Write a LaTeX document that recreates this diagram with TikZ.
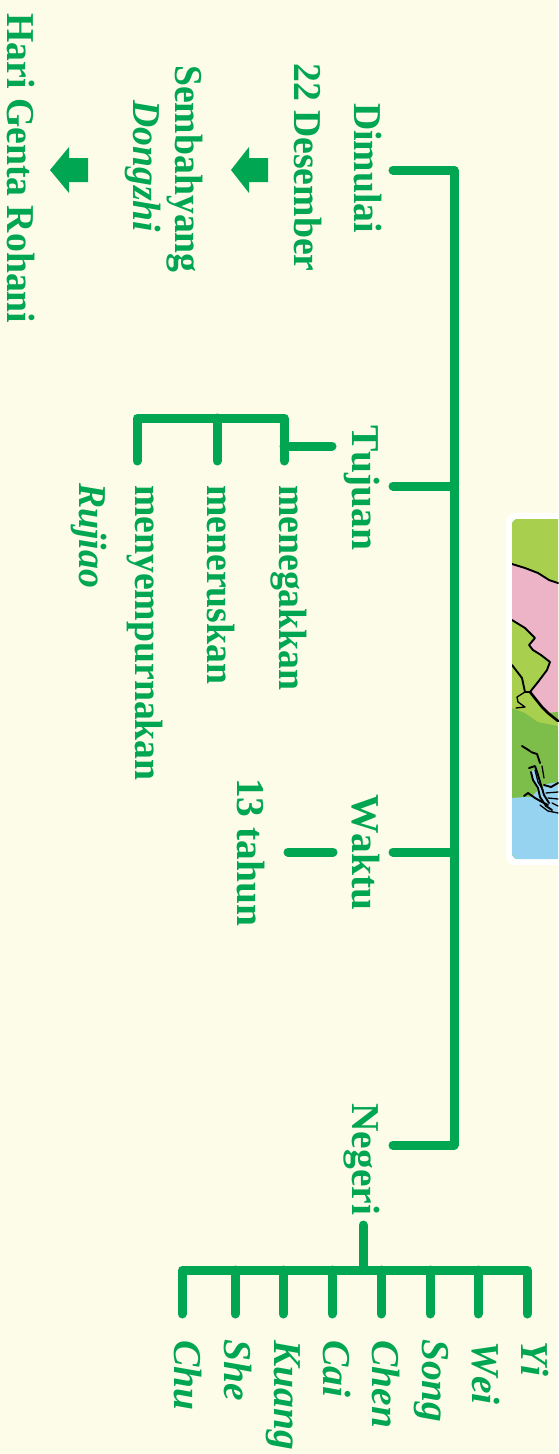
\documentclass[tikz,border=0pt]{standalone}
\usepackage{fontspec}
\setmainfont[Kerning=Off,FakeStretch=0.955]{Liberation Serif}
\newfontfamily\widefont[Kerning=Off]{Liberation Serif}
\definecolor{bgc}{RGB}{253,252,232}
\definecolor{gr}{RGB}{0,166,81}
\definecolor{mlime}{RGB}{168,207,78}
\definecolor{mpink}{RGB}{236,180,198}
\definecolor{mgreen}{RGB}{125,190,75}
\definecolor{mblue}{RGB}{150,211,240}
\tikzset{
  lab/.style={rotate=-90,anchor=base west,inner sep=0pt,text=gr,font=\fontsize{39.5}{42}\selectfont\bfseries},
  ilab/.style={lab,font=\fontsize{39.5}{42}\selectfont\bfseries\itshape},
  wlab/.style={lab,font=\widefont\fontsize{39.5}{42}\selectfont\bfseries},
  wilab/.style={lab,font=\widefont\fontsize{39.5}{42}\selectfont\bfseries\itshape},
  conn/.style={draw=gr,line width=9pt,line cap=round,line join=round},
  blockarrow/.style={fill=gr,draw=none},
  coast/.style={draw=black,line width=1.9pt,line join=round,line cap=round},
  fine/.style={draw=black,line width=1.3pt,line join=round,line cap=round}
}
\begin{document}
\begin{tikzpicture}[x=1pt,y=-1pt]
\useasboundingbox (0,0) rectangle (558,1454);
\fill[bgc] (0,0) rectangle (558,1454);
% map
\fill[white,rounded corners=9pt] (506,513) rectangle (580,865);
\begin{scope}
\clip[rounded corners=6pt] (512,519) rectangle (580,859);
\fill[mgreen] (512,519) rectangle (558,859);
\fill[mlime] (512,519) -- (558,519) -- (558,726) -- (538,722) -- (525,713) -- (512,708) -- cycle;
\fill[mpink] (512,564) -- (525,568) -- (538,573) -- (549,580) -- (558,583) -- (558,712) -- (549,713) -- (542,707) -- (530,692) -- (538,682) -- (547,670) -- (550,662) -- (541,655) -- (533,650) -- (529,645) -- (535,638) -- (525,628) -- (512,620) -- cycle;
\fill[mgreen] (548,713) -- (558,712) -- (558,721) -- cycle;
\fill[mblue] (512,798) -- (525,797) -- (530,790) -- (540,785) -- (558,780) -- (558,859) -- (512,859) -- cycle;
\fill[mgreen] (512,730) rectangle (531,797);
\fill[mgreen] (531,730) -- (558,730) -- (558,782) -- (546,784) -- (538,790) -- (531,797) -- cycle;
\fill[mblue] (531,772) -- (536,768) -- (541,785) -- (549,803) -- (540,797) -- (534,782) -- cycle;
\draw[coast] (512,564) -- (525,568) -- (538,573) -- (549,580) -- (558,583);
\draw[coast] (512,620) -- (525,628) -- (535,638) -- (529,645) -- (533,650) -- (541,655) -- (550,662) -- (547,670) -- (538,682) -- (530,692);
\draw[coast,line width=2.6pt] (530,692) -- (542,707) -- (548,713) -- (558,721);
\draw[coast] (512,665) -- (522,678) -- (525,692) -- (530,692);
\draw[fine] (525,692) -- (517,697) -- (518,702) -- (525,707) -- (516,708);
\draw[coast] (522,746) -- (530,751);
\draw[coast] (531,752) -- (537,754) -- (540,763);
\draw[fine] (542,766) -- (544,778);
\draw[coast] (529,768) -- (535,766) -- (538,775) -- (541,785) -- (544,795) -- (549,803);
\draw[coast] (531,772) -- (533,780) -- (538,788) -- (540,797) -- (546,806) -- (552,810);
\draw[fine] (535,770) -- (538,782) -- (543,790);
\draw[coast] (544,785) -- (551,787) -- (558,783);
\draw[fine] (546,793) -- (558,792);
\draw[fine] (548,798) -- (558,799);
\draw[coast] (524,796) -- (528,793) -- (535,798) -- (542,802) -- (548,805);
\draw[fine] (540,805) -- (548,811) -- (558,813);
\draw[fine] (552,803) -- (558,806);
\end{scope}
% labels
\node[lab] (dimulai) at (354,103) {Dimulai};
\node[lab] (tgl) at (294,63) {22 Desember};
\node[lab] (semb) at (175,65) {Sembahyang};
\node[ilab] (dongzhi) at (133,100) {Dongzhi};
\node[lab] (genta) at (7,13) {Hari Genta Rohani};
\node[wlab] (tujuan) at (352,425) {Tujuan};
\node[lab] (menegak) at (279,485) {menegakkan};
\node[lab] (meneru) at (207,485) {meneruskan};
\node[lab] (menyem) at (135,485) {menyempurnakan};
\node[ilab] (rujiao) at (79,483) {Rujiao};
\node[wlab] (waktu) at (352,794) {Waktu};
\node[wlab] (tahun) at (237,778) {13 tahun};
\node[wlab] (negeri) at (352,1103) {Negeri};
\node[wilab] (yi) at (521,1341) {Yi};
\node[wilab] (wei) at (472,1341) {Wei};
\node[wilab] (song) at (422,1339) {Song};
\node[wilab] (chen) at (372,1340) {Chen};
\node[wilab] (cai) at (323,1340) {Cai};
\node[wilab] (kuang) at (274,1340) {Kuang};
\node[wilab] (she) at (224,1339) {She};
\node[wilab] (chu) at (174,1340) {Chu};
% connector ends
\coordinate (s1) at (393,170);
\coordinate (c1) at (454,170);
\coordinate (s2) at (393,486);
\coordinate (c2) at (454,486);
\coordinate (s3) at (393,852);
\coordinate (c3) at (454,852);
\coordinate (s4) at (393,1145);
\coordinate (c4) at (454,1145);
\coordinate (t1) at (332,446);
\coordinate (t2) at (284,446);
\coordinate (b1) at (284,418);
\coordinate (b2) at (217,418);
\coordinate (b3) at (137,418);
\coordinate (e1) at (284,461);
\coordinate (e2) at (217,461);
\coordinate (e3) at (137,461);
\coordinate (w1) at (333,852);
\coordinate (w2) at (288,852);
\coordinate (n1) at (363,1225);
\coordinate (n2) at (363,1270);
\coordinate (h1) at (182,1270);
\coordinate (h2) at (235,1270);
\coordinate (h3) at (283,1270);
\coordinate (h4) at (332,1270);
\coordinate (h5) at (381,1270);
\coordinate (h6) at (430,1270);
\coordinate (h7) at (478,1270);
\coordinate (h8) at (527,1270);
\coordinate (f1) at (182,1314);
\coordinate (f2) at (235,1314);
\coordinate (f3) at (283,1314);
\coordinate (f4) at (332,1314);
\coordinate (f5) at (381,1314);
\coordinate (f6) at (430,1314);
\coordinate (f7) at (478,1314);
\coordinate (f8) at (527,1314);
% connectors
\draw[conn] (s1) -- (c1) -- (c4) -- (s4);
\draw[conn] (s2) -- (c2);
\draw[conn] (s3) -- (c3);
\draw[conn] (t1) -- (t2);
\draw[conn] (e3) -- (b3) -- (b1) -- (e1);
\draw[conn] (b2) -- (e2);
\draw[conn] (w1) -- (w2);
\draw[conn] (n1) -- (n2);
\draw[conn] (f1) -- (h1) -- (h8) -- (f8);
\draw[conn] (h2) -- (f2);
\draw[conn] (h3) -- (f3);
\draw[conn] (h4) -- (f4);
\draw[conn] (h5) -- (f5);
\draw[conn] (h6) -- (f6);
\draw[conn] (h7) -- (f7);
% arrows
\fill[blockarrow] (231,170) -- (249,147) -- (249,158) -- (268,158) -- (268,182) -- (249,182) -- (249,193) -- cycle;
\fill[blockarrow] (50,170) -- (69,147) -- (69,158) -- (88,158) -- (88,182) -- (69,182) -- (69,193) -- cycle;
\end{tikzpicture}
\end{document}
